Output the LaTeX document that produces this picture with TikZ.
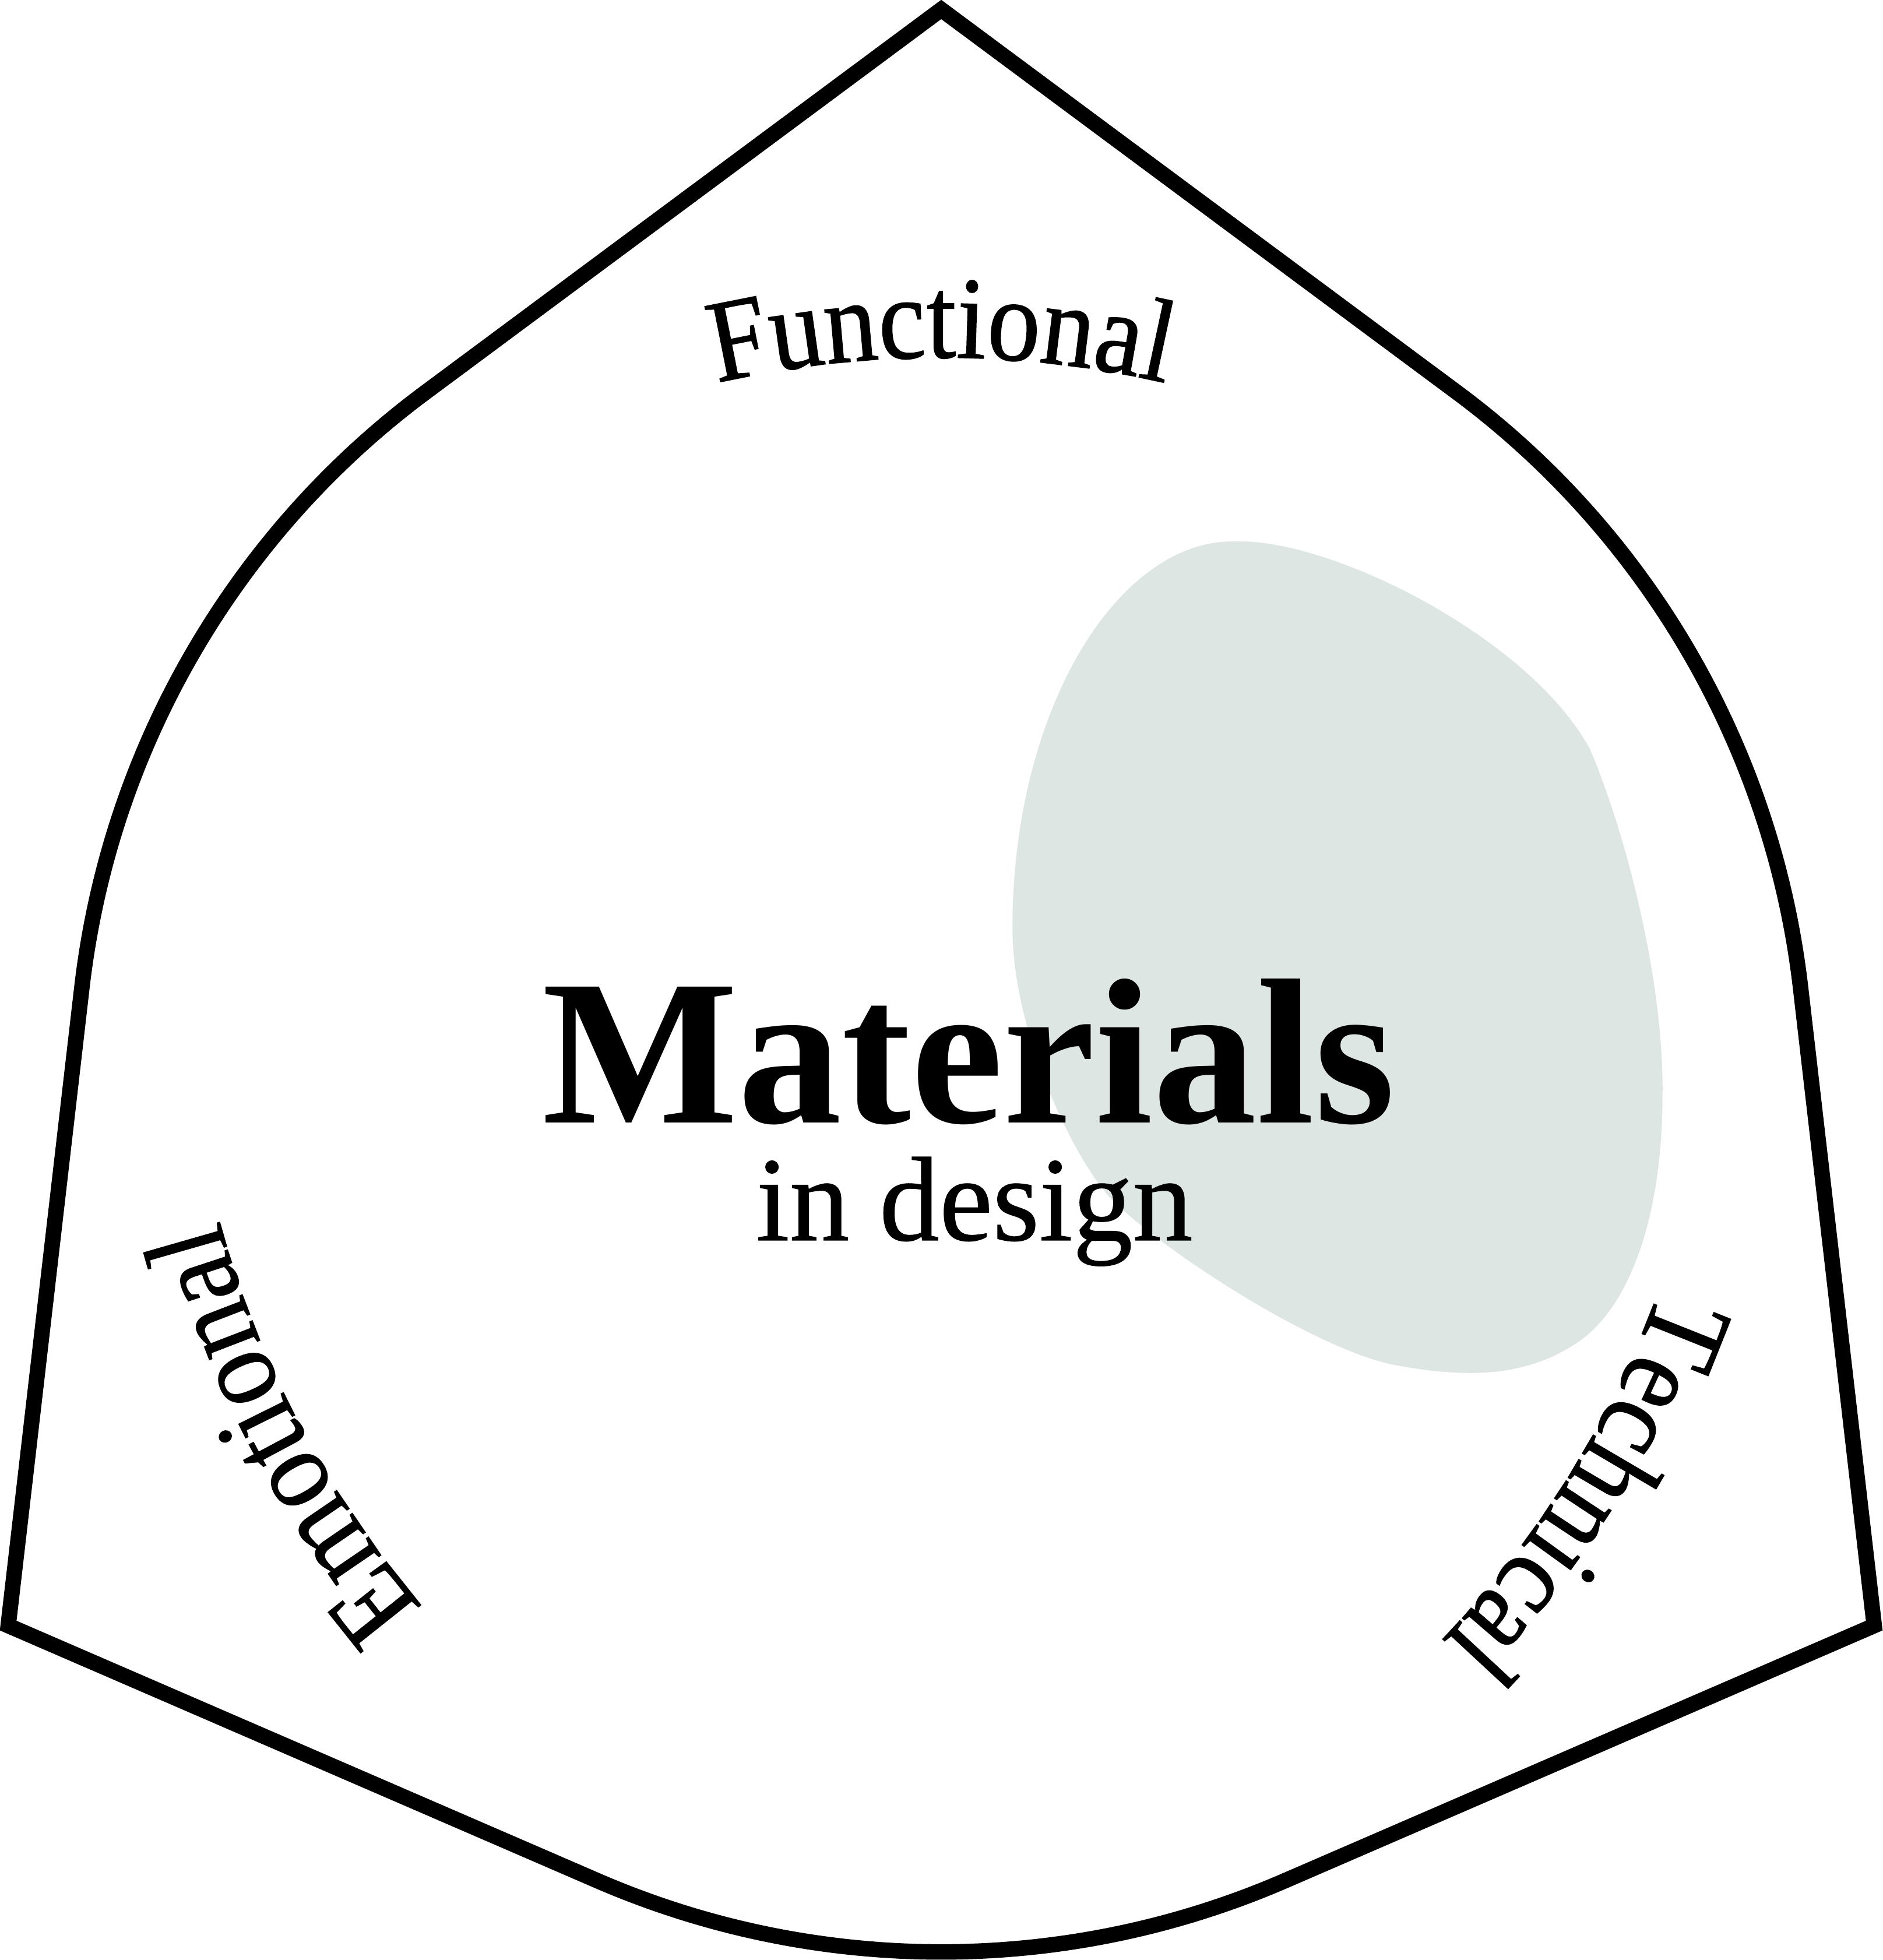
\documentclass[tikz,border=0pt]{standalone}
\usepackage{fontspec}
\setmainfont{Liberation Serif}
\newfontfamily\labelfamily{Liberation Serif}[FakeStretch=0.9, FakeBold=0.8]
\newfontfamily\subfamily{Liberation Serif}[FakeBold=0.6]
\usetikzlibrary{decorations.text}
\definecolor{blobgray}{RGB}{221,230,227}
\newcommand\labelstyle{\labelfamily\fontsize{47}{50}\selectfont}
\tikzset{
  outline/.style={draw=black, line width=6.2pt, line join=miter},
  blob/.style={fill=blobgray, draw=none},
  curvedlabel/.style={decorate, decoration={text along path, text={|\labelstyle|#1}, text align=center}},
  titletext/.style={anchor=base, inner sep=0pt, font=\fontsize{83}{90}\selectfont\bfseries},
  subtext/.style={anchor=base, inner sep=0pt, font=\subfamily\fontsize{48}{52}\selectfont},
}
\begin{document}
\begin{tikzpicture}[x=0.5pt, y=0.5pt]
\useasboundingbox (-752.9,-698.4) rectangle (752.9,869.4);
% grey blob
\fill[blob] (232.8,436.3)
  .. controls (310,440) and (470,360) .. (518.8,270.4)
  .. controls (545,210) and (578,90) .. (577,-6)
  .. controls (577,-105) and (550,-180) .. (505,-207)
  .. controls (465,-232) and (420,-233) .. (364,-222.7)
  .. controls (305,-212) and (190,-140) .. (140,-93.7)
  .. controls (110,-66) and (57,40) .. (57,127.5)
  .. controls (57,300) and (140,436) .. (232.8,436.3) -- cycle;
% outline: hull of a circle and a triangle
\draw[outline] (90:861.8) -- (126.6:692) arc[start angle=126.6, end angle=173.4, radius=692]
  -- (210:861.8) -- (246.6:692) arc[start angle=246.6, end angle=293.4, radius=692]
  -- (330:861.8) -- (6.6:692) arc[start angle=6.6, end angle=53.4, radius=692] -- cycle;
% titles
\node[titletext] (title) at (22.1,-28.6) {Materials};
\node[subtext] (subtitle) at (26.6,-122.6) {in design};
% curved labels
\path[curvedlabel=Functional] (270:216.6) ++(125:800) arc[start angle=125, end angle=55, radius=800];
\path[curvedlabel=Technical] (148.2:209.3) ++(3.2:800) arc[start angle=3.2, end angle=-66.8, radius=800];
\path[curvedlabel=Emotional] (27.8:220) ++(242.8:800) arc[start angle=242.8, end angle=172.8, radius=800];
\end{tikzpicture}
\end{document}
